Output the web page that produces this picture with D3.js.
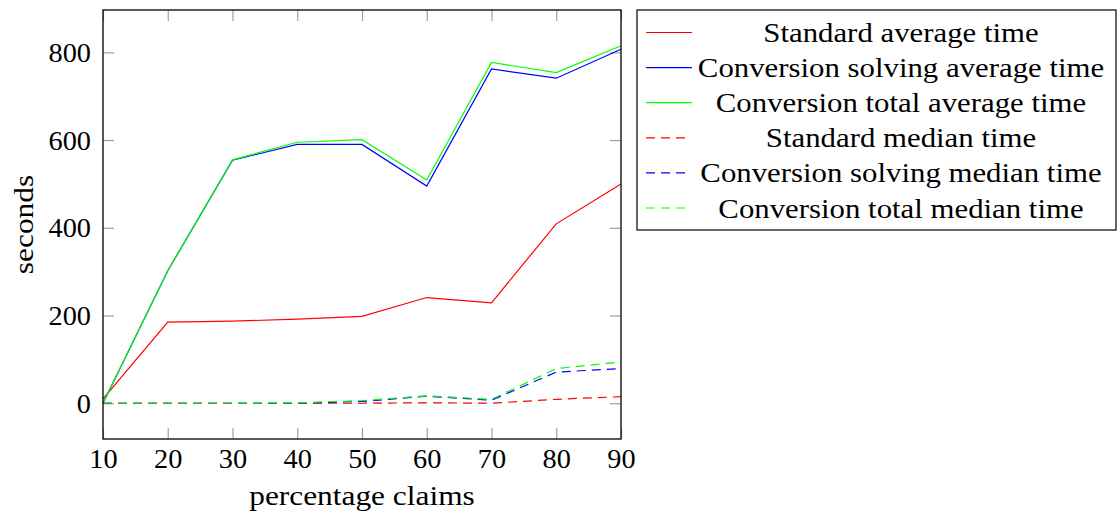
<!DOCTYPE html>
<html lang="en">
<head>
<meta charset="UTF-8">
<title>Average and median times</title>
<script src="https://d3js.org/d3.v7.min.js"></script>
<style>
    body {
        margin: 0;
        background-color: #fff;
        font-family: "Liberation Serif", serif;
    }
    .axisTitle {
        font-size: 28px;
        text-anchor: middle;
    }
    .legendText {
        font-size: 28px;
        text-anchor: middle;
    }
</style>
</head>
<body>
<script>
    const width = 1117;
    const height = 515;

    // data
    const claims = [10, 20, 30, 40, 50, 60, 70, 80, 90];
    const standardAvg = [10, 185, 187, 192, 198, 241, 229, 409, 500];
    const solvingAvg = [0, 302, 554, 590, 590, 495, 762, 741, 807];
    const totalAvg = [0, 302, 555, 595, 601, 509, 777, 754, 815];
    const standardMed = [0, 0, 0, 0, 0, 1, 0, 9, 15];
    const solvingMed = [0, 0, 0, 0, 4, 16, 7, 71, 79];
    const totalMed = [0, 0, 0, 1, 6, 17, 9, 79, 94];
    const yTicks = [0, 200, 400, 600, 800];

    const series = [
        { name: "Standard average time", values: standardAvg, color: "#ff0000", dash: null },
        { name: "Conversion solving average time", values: solvingAvg, color: "#0000ff", dash: null },
        { name: "Conversion total average time", values: totalAvg, color: "#00ff00", dash: null },
        { name: "Standard median time", values: standardMed, color: "#ff0000", dash: "9,6" },
        { name: "Conversion solving median time", values: solvingMed, color: "#0000ff", dash: "9,6" },
        { name: "Conversion total median time", values: totalMed, color: "#00ff00", dash: "9,6" }
    ];

    const plot = { left: 103, right: 621, top: 10, bottom: 439 };

    const svg = d3.select("body").append("svg")
        .attr("width", width)
        .attr("height", height);

    const x = d3.scaleLinear().domain([10, 90]).range([plot.left, plot.right]);
    const y = d3.scaleLinear().domain([-81.5, 896.5]).range([plot.bottom, plot.top]);

    const tickLen = 11;

    // stretch text a bit so Times glyphs come closer to Computer Modern widths
    function widen(sel, k) {
        sel.each(function() {
            const w = this.getComputedTextLength();
            d3.select(this)
                .attr("textLength", w * k)
                .attr("lengthAdjust", "spacingAndGlyphs");
        });
    }

    // axes with inward ticks
    const gx = svg.append("g")
        .attr("transform", `translate(0,${plot.bottom})`)
        .call(d3.axisBottom(x).tickValues(claims).tickSize(-tickLen).tickSizeOuter(0).tickPadding(10));
    const gy = svg.append("g")
        .attr("transform", `translate(${plot.left},0)`)
        .call(d3.axisLeft(y).tickValues(yTicks).tickSize(-tickLen).tickSizeOuter(0).tickPadding(12));
    const gxTop = svg.append("g")
        .attr("transform", `translate(0,${plot.top})`)
        .call(d3.axisTop(x).tickValues(claims).tickSize(-tickLen).tickSizeOuter(0).tickFormat(""));
    const gyRight = svg.append("g")
        .attr("transform", `translate(${plot.right},0)`)
        .call(d3.axisRight(y).tickValues(yTicks).tickSize(-tickLen).tickSizeOuter(0).tickFormat(""));

    [gx, gy, gxTop, gyRight].forEach(g => {
        g.select(".domain").remove();
        g.selectAll(".tick line").attr("stroke", "#a0a0a0").attr("stroke-width", 1.2);
        g.selectAll(".tick text")
            .attr("fill", "#000")
            .attr("font-family", "Liberation Serif, serif")
            .attr("font-size", 27);
    });
    gx.selectAll(".tick text").attr("dy", "0.72em");
    gy.selectAll(".tick text").attr("dy", "0.34em");
    widen(gx.selectAll(".tick text"), 1.05);
    widen(gy.selectAll(".tick text"), 1.05);

    // lines
    const line = d3.line()
        .x((d, i) => x(claims[i]))
        .y(d => y(d));

    series.forEach(s => {
        svg.append("path")
            .datum(s.values)
            .attr("d", line)
            .attr("fill", "none")
            .attr("stroke", s.color)
            .attr("stroke-width", 1.2)
            .attr("stroke-dasharray", s.dash);
    });

    // frame
    svg.append("rect")
        .attr("x", plot.left)
        .attr("y", plot.top)
        .attr("width", plot.right - plot.left)
        .attr("height", plot.bottom - plot.top)
        .attr("fill", "none")
        .attr("stroke", "#000")
        .attr("stroke-width", 1.3);

    // axis titles
    const xTitle = svg.append("text")
        .attr("class", "axisTitle")
        .attr("x", (plot.left + plot.right) / 2)
        .attr("y", 505)
        .text("percentage claims");
    const yTitle = svg.append("text")
        .attr("class", "axisTitle")
        .attr("transform", `translate(33,${(plot.top + plot.bottom) / 2}) rotate(-90)`)
        .text("seconds");
    widen(xTitle, 1.12);
    widen(yTitle, 1.12);

    // legend
    const legend = svg.append("g");
    legend.append("rect")
        .attr("x", 637)
        .attr("y", 10)
        .attr("width", 479)
        .attr("height", 220)
        .attr("fill", "#fff")
        .attr("stroke", "#000")
        .attr("stroke-width", 1.2);

    series.forEach((s, i) => {
        const ly = 32.5 + i * 35.1;
        legend.append("line")
            .attr("x1", 646)
            .attr("x2", s.dash ? 686 : 692)
            .attr("y1", ly)
            .attr("y2", ly)
            .attr("stroke", s.color)
            .attr("stroke-width", 1.2)
            .attr("stroke-dasharray", s.dash);
        const t = legend.append("text")
            .attr("class", "legendText")
            .attr("x", 901)
            .attr("y", ly + 9.5)
            .text(s.name);
        widen(t, 1.1);
    });
</script>
</body>
</html>
